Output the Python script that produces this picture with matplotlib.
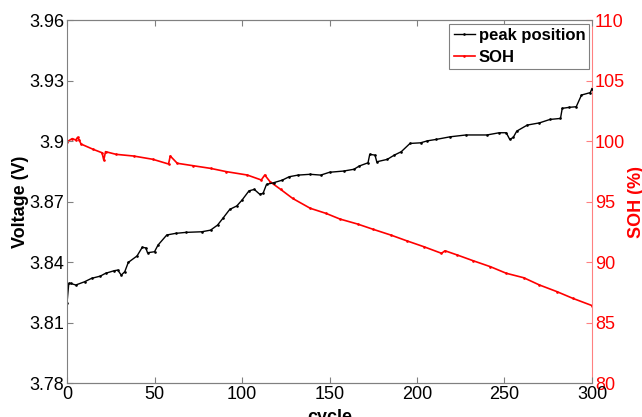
import matplotlib.pyplot as plt
import numpy as np

plt.rcParams['font.family'] = ['Liberation Sans', 'DejaVu Sans']

# peak position (V) vs cycle
peak_cycle = [0, 1, 2, 5, 10, 14, 19, 22, 27, 29, 31, 33, 35, 40, 43, 45, 46, 50,
              52, 57, 62, 68, 77, 82, 86, 89, 93, 97, 100, 104, 107, 110, 112, 114,
              118, 123, 127, 132, 139, 145, 150, 158, 164, 167, 172, 173, 176, 177,
              183, 187, 191, 196, 202, 206, 211, 219, 228, 240, 247, 251, 253, 255,
              257, 263, 270, 276, 282, 283, 287, 291, 294, 299, 300]
peak_volt = [3.8198, 3.8294, 3.8294, 3.8286, 3.8302, 3.8319, 3.8330, 3.8344, 3.8357,
             3.8360, 3.8335, 3.8352, 3.8398, 3.8430, 3.8473, 3.8470, 3.8446, 3.8451,
             3.8484, 3.8534, 3.8542, 3.8547, 3.8550, 3.8558, 3.8583, 3.8616, 3.8661,
             3.8678, 3.8707, 3.8753, 3.8760, 3.8737, 3.8740, 3.8785, 3.8793, 3.8806,
             3.8823, 3.8831, 3.8835, 3.8831, 3.8845, 3.8851, 3.8860, 3.8876, 3.8892,
             3.8934, 3.8930, 3.8897, 3.8909, 3.8930, 3.8947, 3.8988, 3.8991, 3.9001,
             3.9008, 3.9021, 3.9030, 3.9030, 3.9041, 3.9041, 3.9008, 3.9018, 3.9049,
             3.9079, 3.9090, 3.9107, 3.9112, 3.9162, 3.9167, 3.9170, 3.9228, 3.9240,
             3.9260]

# SOH (%) vs cycle
soh_cycle = [0, 3, 5, 6, 7, 8, 15, 20, 21, 22, 28, 38, 49, 58, 59, 63, 72, 82, 91,
             103, 111, 113, 116, 122, 129, 139, 148, 156, 166, 175, 185, 194, 204,
             214, 216, 223, 232, 242, 251, 261, 270, 280, 289, 300]
soh = [99.94, 100.2, 100.08, 100.3, 100.08, 99.75, 99.31, 99.03, 98.43, 99.12, 98.9,
       98.76, 98.49, 98.1, 98.76, 98.16, 97.96, 97.74, 97.47, 97.19, 96.78, 97.19,
       96.64, 96.01, 95.25, 94.44, 94.02, 93.55, 93.14, 92.7, 92.23, 91.76, 91.26,
       90.72, 90.93, 90.58, 90.11, 89.61, 89.07, 88.7, 88.1, 87.55, 87.0, 86.4]

volt_ticks = [3.78, 3.81, 3.84, 3.87, 3.9, 3.93, 3.96]
volt_labels = ['3.78', '3.81', '3.84', '3.87', '3.9', '3.93', '3.96']
soh_ticks = [80, 85, 90, 95, 100, 105, 110]
cycle_ticks = [0, 50, 100, 150, 200, 250, 300]

fig = plt.figure(figsize=(6.42, 4.17), dpi=100)
ax1 = fig.add_axes([0.1044, 0.0815, 0.8177, 0.8705])
ax2 = ax1.twinx()

spine_gray = '#808080'
l1, = ax1.plot(peak_cycle, peak_volt, color='k', lw=1.0, marker='.', markersize=1.8)
l2, = ax2.plot(soh_cycle, soh, color='r', lw=1.2, marker='.', markersize=1.8)

ax1.set_xlim(0, 300)
ax1.set_ylim(3.78, 3.96)
ax2.set_ylim(80, 110)
ax1.set_xticks(cycle_ticks)
ax1.set_yticks(volt_ticks)
ax1.set_yticklabels(volt_labels)
ax2.set_yticks(soh_ticks)

ax1.tick_params(axis='both', direction='in', length=4, color=spine_gray,
                labelsize=13, top=True, right=False, pad=2)
ax2.tick_params(axis='y', direction='in', length=4, color='#ff8080',
                labelcolor='r', labelsize=13, pad=2)

for s in ['left', 'bottom', 'top']:
    ax1.spines[s].set_color(spine_gray)
    ax2.spines[s].set_color(spine_gray)
ax1.spines['right'].set_visible(False)
ax2.spines['right'].set_color('#ff8080')
ax2.spines['left'].set_visible(False)

ax1.set_ylabel('Voltage (V)', fontsize=13, fontweight='bold')
ax1.yaxis.set_label_coords(-0.072, 0.5)
ax2.set_ylabel('SOH (%)', fontsize=13, fontweight='bold', color='r')
ax2.yaxis.set_label_coords(1.069, 0.5)
ax1.set_xlabel('cycle', fontsize=13, fontweight='bold')
ax1.xaxis.set_label_coords(0.5, -0.072)

leg = ax1.legend([l1, l2], ['peak position', 'SOH'], loc='upper right',
                 bbox_to_anchor=(0.995, 0.99), fancybox=False, framealpha=1,
                 edgecolor=spine_gray, prop={'size': 12, 'weight': 'bold'},
                 handlelength=1.3, handletextpad=0.2, borderpad=0.25,
                 labelspacing=0.45, borderaxespad=0)
leg.get_frame().set_linewidth(0.8)
ax1.set_zorder(ax2.get_zorder() + 1)
ax1.patch.set_visible(False)

fig.savefig('out.png', dpi=100)
